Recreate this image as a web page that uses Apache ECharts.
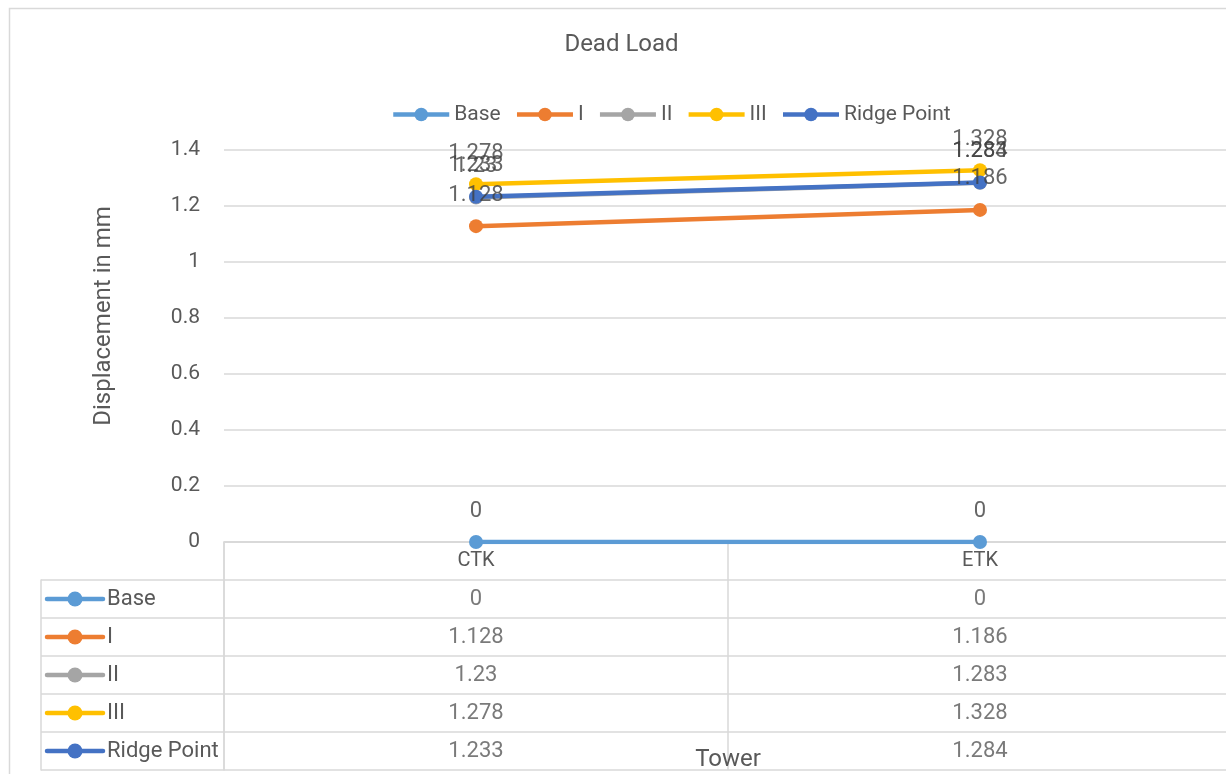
<!DOCTYPE html>
<html>
<head>
<meta charset="utf-8">
<script src="https://cdn.jsdelivr.net/npm/echarts@6/dist/echarts.min.js"></script>
<style>
  html, body { margin: 0; padding: 0; background: #ffffff; }
  #chart { width: 1226px; height: 774px; }
</style>
</head>
<body>
<div id="chart"></div>
<script>
// Towers along the category axis
const towers = ['CTK', 'ETK'];
// Measurement levels (one line each)
const seriesNames = ['Base', 'I', 'II', 'III', 'Ridge Point'];
// Displacement values in mm, per tower
const baseValues = [0, 0];
const levelI = [1.128, 1.186];
const levelII = [1.23, 1.283];
const levelIII = [1.278, 1.328];
const ridgePoint = [1.233, 1.284];
// Value axis range
const yMin = 0;
const yMax = 1.4;
const yStep = 0.2;

const allValues = [baseValues, levelI, levelII, levelIII, ridgePoint];
const colors = ['#5B9BD5', '#ED7D31', '#A5A5A5', '#FFC000', '#4472C4'];
const FONT = 'Roboto, "Open Sans", sans-serif';
const GRID_LINE = '#d9d9d9';
const TEXT = '#595959';

const chart = echarts.init(document.getElementById('chart'), null, { renderer: 'canvas' });

// Plot lines with round markers
const lineSeries = seriesNames.map((name, i) => ({
  name: name,
  type: 'line',
  xAxisIndex: 0,
  yAxisIndex: 0,
  data: allValues[i],
  symbol: 'circle',
  symbolSize: 14,
  color: colors[i],
  lineStyle: { width: 4.5, color: colors[i] },
  itemStyle: { color: colors[i] },
  label: { show: false },
  emphasis: { disabled: true },
  animation: false,
  z: 3 + i
}));

// Value labels above every point, kept on a layer above all lines
const labelSeries = seriesNames.map((name, i) => ({
  type: 'scatter',
  xAxisIndex: 0,
  yAxisIndex: 0,
  data: allValues[i],
  symbolSize: 0,
  label: {
    show: true,
    position: 'top',
    distance: 20,
    color: '#404040',
    fontSize: 22,
    fontFamily: FONT
  },
  silent: true,
  animation: false,
  z: 20
}));

// Data table cells: one text cell per level and tower
const tableCells = [];
seriesNames.forEach((name, s) => {
  towers.forEach((t, c) => {
    tableCells.push({ value: [t, name, allValues[s][c]] });
  });
});

const tableSeries = {
  type: 'scatter',
  xAxisIndex: 1,
  yAxisIndex: 1,
  symbolSize: 0,
  data: tableCells,
  label: {
    show: true,
    position: 'inside',
    formatter: p => String(p.value[2]),
    color: TEXT,
    fontSize: 22,
    fontFamily: FONT
  },
  silent: true,
  animation: false
};

// Legend keys in the table's left column
const keySeries = {
  type: 'custom',
  xAxisIndex: 2,
  yAxisIndex: 2,
  data: seriesNames.map((n, i) => [0, n, i]),
  renderItem: function (params, api) {
    const pt = api.coord([api.value(0), api.value(1)]);
    const x0 = params.coordSys.x + 6;
    const col = colors[api.value(2)];
    return {
      type: 'group',
      children: [
        { type: 'line', shape: { x1: x0, y1: pt[1], x2: x0 + 56, y2: pt[1] },
          style: { stroke: col, lineWidth: 4.5, lineCap: 'round' } },
        { type: 'circle', shape: { cx: x0 + 28, cy: pt[1], r: 7.5 },
          style: { fill: col } }
      ]
    };
  },
  silent: true,
  animation: false
};

const option = {
  backgroundColor: '#ffffff',
  animation: false,
  legend: {
    data: seriesNames,
    left: 391,
    top: 104,
    padding: 0,
    itemWidth: 56,
    itemHeight: 17,
    itemGap: 14,
    lineStyle: { width: 4.5 },
    textStyle: { color: TEXT, fontSize: 21, fontFamily: FONT },
    selectedMode: false
  },
  graphic: [
    {
      type: 'rect',
      shape: { x: 9.5, y: 8.5, width: 1400, height: 900 },
      style: { fill: 'none', stroke: GRID_LINE, lineWidth: 1.5 },
      silent: true,
      z: -1
    },
    {
      type: 'text',
      x: 621.5,
      y: 45,
      style: {
        text: 'Dead Load',
        fill: TEXT,
        font: '24px ' + FONT,
        align: 'center',
        verticalAlign: 'middle'
      },
      silent: true
    },
    {
      type: 'text',
      x: 104,
      y: 316,
      rotation: Math.PI / 2,
      style: {
        text: 'Displacement in mm',
        fill: TEXT,
        font: '24px ' + FONT,
        align: 'center',
        verticalAlign: 'middle'
      },
      silent: true
    }
  ],
  grid: [
    { left: 224, top: 150, width: 1008, height: 392, containLabel: false, outerBoundsMode: 'none' },
    { left: 224, top: 542, width: 1008, height: 228, containLabel: false, outerBoundsMode: 'none' },
    { left: 41, top: 580, width: 183, height: 190, containLabel: false, outerBoundsMode: 'none' }
  ],
  xAxis: [
    {
      gridIndex: 0,
      type: 'category',
      data: towers,
      boundaryGap: true,
      axisLine: { show: true, lineStyle: { color: GRID_LINE, width: 1.5 } },
      axisTick: { show: false },
      axisLabel: { color: TEXT, fontSize: 20, fontFamily: FONT, margin: 9 },
      splitLine: { show: false },
      name: 'Tower',
      nameLocation: 'middle',
      nameGap: 206,
      nameTextStyle: { color: TEXT, fontSize: 24, fontFamily: FONT }
    },
    {
      gridIndex: 1,
      type: 'category',
      data: towers,
      position: 'top',
      boundaryGap: true,
      axisLine: { show: false },
      axisTick: { show: false },
      axisLabel: { show: false },
      splitLine: { show: true, lineStyle: { color: GRID_LINE, width: 1.5 } }
    },
    {
      gridIndex: 2,
      type: 'category',
      data: [0],
      show: false
    }
  ],
  yAxis: [
    {
      gridIndex: 0,
      type: 'value',
      min: yMin,
      max: yMax,
      interval: yStep,
      axisLine: { show: false },
      axisTick: { show: false },
      axisLabel: { color: TEXT, fontSize: 21, fontFamily: FONT, margin: 24 },
      splitLine: { show: true, lineStyle: { color: GRID_LINE, width: 1.5 } }
    },
    {
      gridIndex: 1,
      type: 'category',
      data: [''].concat(seriesNames),
      inverse: true,
      boundaryGap: true,
      axisLine: { show: true, lineStyle: { color: GRID_LINE, width: 1.5 } },
      axisTick: { show: false },
      axisLabel: { show: false },
      splitLine: { show: true, lineStyle: { color: GRID_LINE, width: 1.5 } }
    },
    {
      gridIndex: 2,
      type: 'category',
      data: seriesNames,
      inverse: true,
      boundaryGap: true,
      axisLine: { show: true, lineStyle: { color: GRID_LINE, width: 1.5 } },
      axisTick: { show: false },
      axisLabel: {
        show: true,
        inside: true,
        margin: 66,
        color: TEXT,
        fontSize: 22,
        fontFamily: FONT
      },
      splitLine: { show: true, lineStyle: { color: GRID_LINE, width: 1.5 } }
    }
  ],
  series: lineSeries.concat(labelSeries, [tableSeries, keySeries])
};

chart.setOption(option);
</script>
</body>
</html>
